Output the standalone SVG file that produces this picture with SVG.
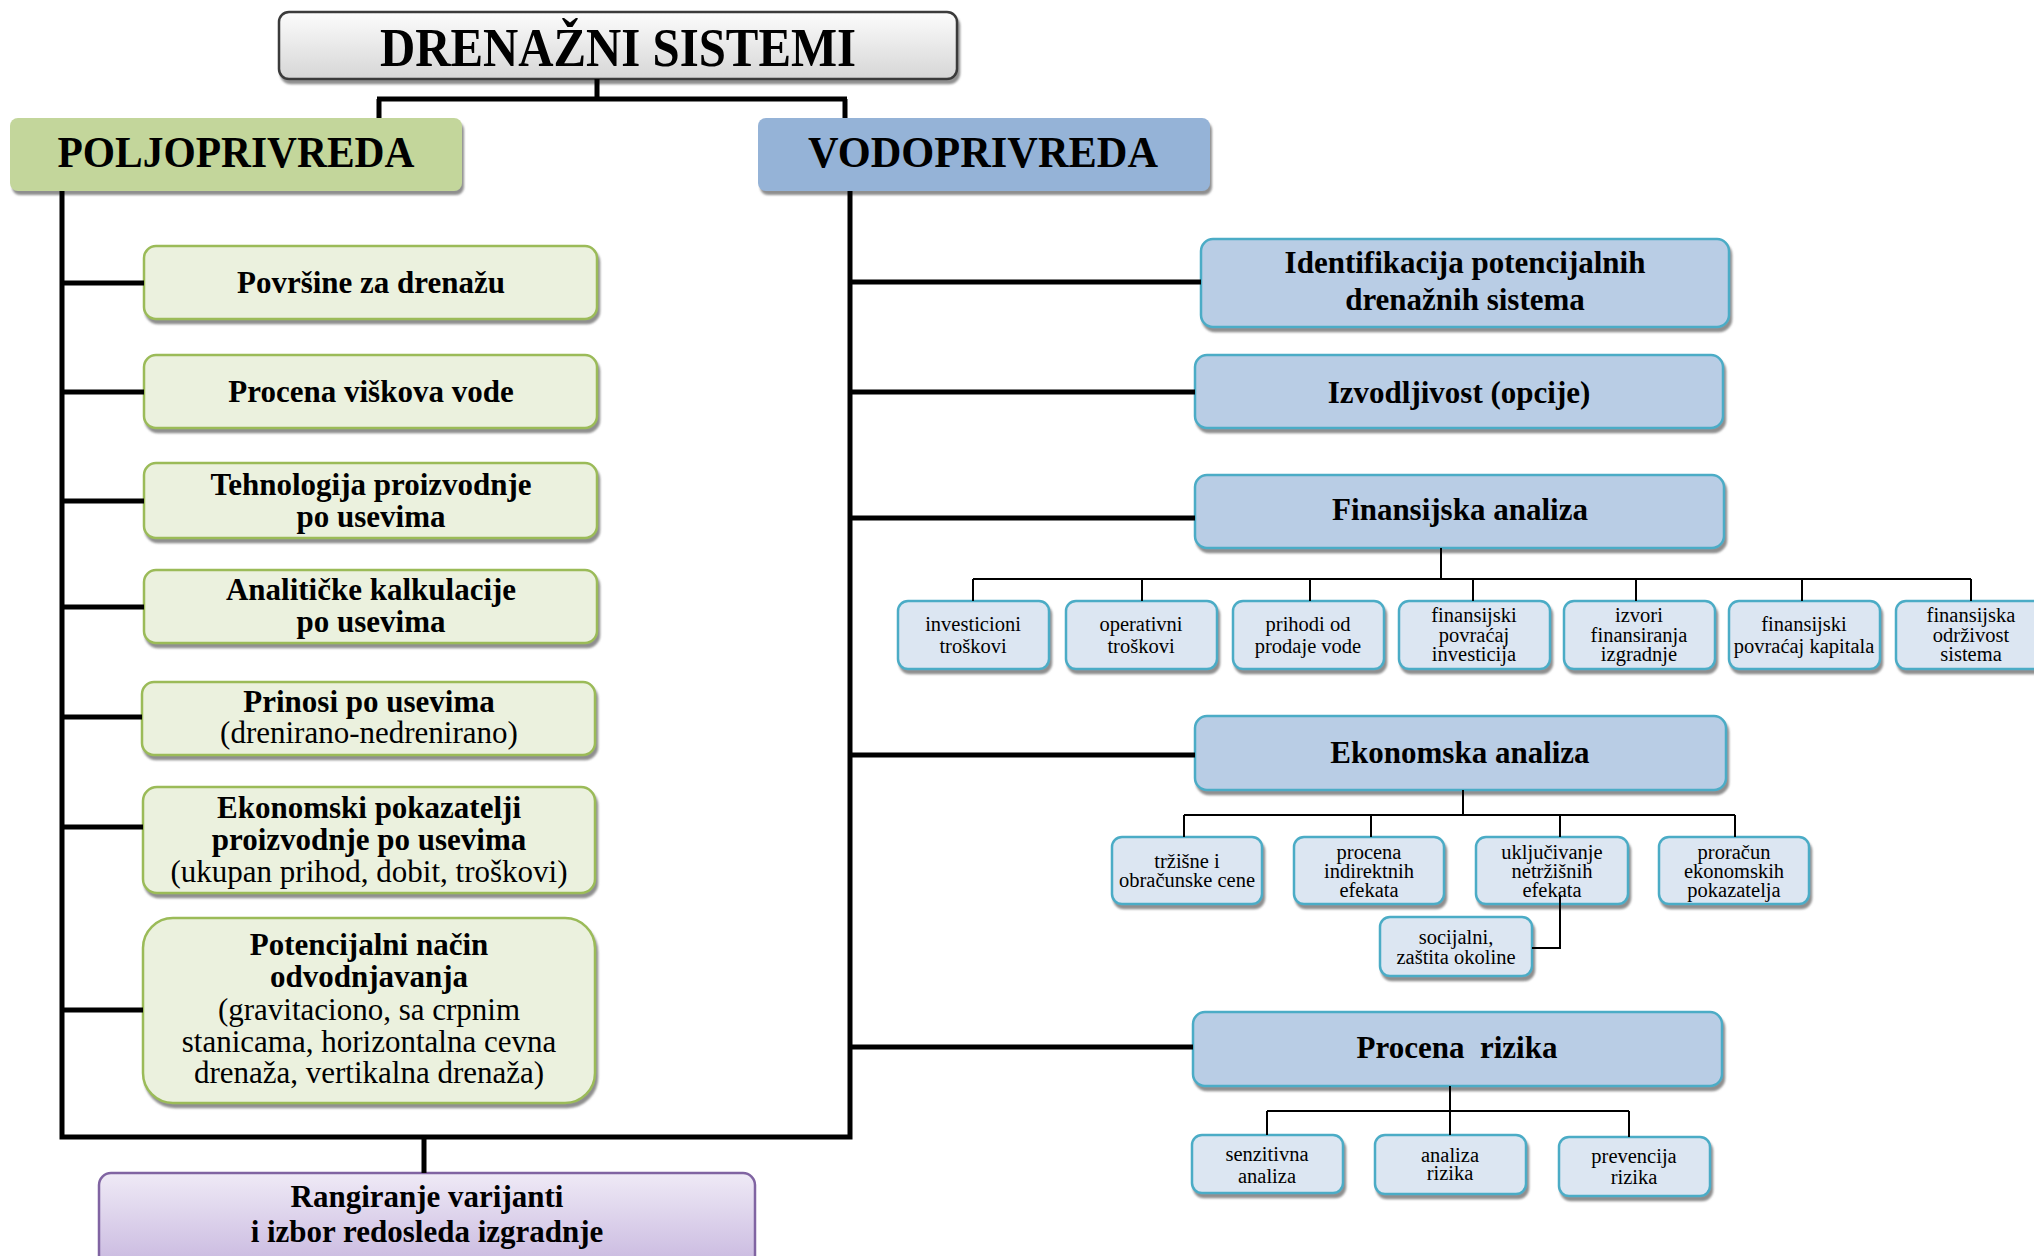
<svg xmlns="http://www.w3.org/2000/svg" width="2034" height="1256" viewBox="0 0 2034 1256">
<defs>
<filter id="sh" x="-5%" y="-10%" width="115%" height="130%">
<feDropShadow dx="2" dy="4" stdDeviation="1.2" flood-color="#7a7a7a" flood-opacity="0.85"/>
</filter>
<linearGradient id="gTitle" x1="0" y1="0" x2="0" y2="1">
<stop offset="0" stop-color="#fcfcfc"/><stop offset="1" stop-color="#d6d6d6"/>
</linearGradient>
<linearGradient id="gPurple" x1="0" y1="0" x2="0" y2="1">
<stop offset="0" stop-color="#efeaf6"/><stop offset="1" stop-color="#c6b5de"/>
</linearGradient>
<style>
text{font-family:"Liberation Serif","Times New Roman",serif;fill:#000;text-anchor:middle}
.b{font-weight:bold;font-size:31px}
.r{font-size:31px}
.s{font-size:20.5px}
.hd{font-weight:bold;font-size:44px}
.green{fill:#ebf1de;stroke:#9bbb59;stroke-width:2.5}
.blue{fill:#b9cde5;stroke:#4bacc6;stroke-width:2.5}
.sub{fill:#dce6f2;stroke:#4bacc6;stroke-width:2.5}
.thick{stroke:#000;stroke-width:5;fill:none}
.thin{stroke:#000;stroke-width:2;fill:none}
</style>
</defs>

<g id="title">
<rect x="279" y="12" width="678" height="67" rx="10" fill="url(#gTitle)" stroke="#3a3a3a" stroke-width="2.5" filter="url(#sh)"/>
<text x="618" y="66" font-weight="bold" font-size="54" textLength="476" lengthAdjust="spacingAndGlyphs">DRENAŽNI SISTEMI</text>
</g>

<g id="poljoprivreda">
<rect x="10" y="118" width="452" height="73" rx="8" fill="#c3d69b" filter="url(#sh)"/>
<text class="hd" x="236" y="167" textLength="357" lengthAdjust="spacingAndGlyphs">POLJOPRIVREDA</text>
</g>

<g id="vodoprivreda">
<rect x="758" y="118" width="452" height="73" rx="8" fill="#95b3d7" filter="url(#sh)"/>
<text class="hd" x="983" y="167" textLength="350" lengthAdjust="spacingAndGlyphs">VODOPRIVREDA</text>
</g>

<g id="povrsine">
<rect class="green" x="144" y="246" width="453" height="73" rx="12" filter="url(#sh)"/>
<text class="b" x="371" y="293">Površine za drenažu</text>
</g>
<g id="procena-viskova">
<rect class="green" x="144" y="355" width="453" height="73" rx="12" filter="url(#sh)"/>
<text class="b" x="371" y="402">Procena viškova vode</text>
</g>
<g id="tehnologija">
<rect class="green" x="144" y="463" width="453" height="75" rx="12" filter="url(#sh)"/>
<text class="b" x="371" y="495">Tehnologija proizvodnje</text>
<text class="b" x="371" y="527">po usevima</text>
</g>
<g id="analiticke">
<rect class="green" x="144" y="570" width="453" height="73" rx="12" filter="url(#sh)"/>
<text class="b" x="371" y="600">Analitičke kalkulacije</text>
<text class="b" x="371" y="632">po usevima</text>
</g>
<g id="prinosi">
<rect class="green" x="142" y="682" width="453" height="73" rx="12" filter="url(#sh)"/>
<text class="b" x="369" y="712">Prinosi po usevima</text>
<text class="r" x="369" y="743">(drenirano-nedrenirano)</text>
</g>
<g id="ekonomski-pokazatelji">
<rect class="green" x="143" y="787" width="452" height="106" rx="14" filter="url(#sh)"/>
<text class="b" x="369" y="818">Ekonomski pokazatelji</text>
<text class="b" x="369" y="850">proizvodnje po usevima</text>
<text class="r" x="369" y="882">(ukupan prihod, dobit, troškovi)</text>
</g>
<g id="potencijalni">
<rect class="green" x="143" y="918" width="452" height="185" rx="30" filter="url(#sh)"/>
<text class="b" x="369" y="955">Potencijalni način</text>
<text class="b" x="369" y="987">odvodnjavanja</text>
<text class="r" x="369" y="1020">(gravitaciono, sa crpnim</text>
<text class="r" x="369" y="1052">stanicama, horizontalna cevna</text>
<text class="r" x="369" y="1083">drenaža, vertikalna drenaža)</text>
</g>

<g id="rangiranje">
<rect x="99" y="1173" width="656" height="100" rx="12" fill="url(#gPurple)" stroke="#8064a2" stroke-width="2.5"/>
<text class="b" x="427" y="1207">Rangiranje varijanti</text>
<text class="b" x="427" y="1242">i izbor redosleda izgradnje</text>
</g>

<g id="identifikacija">
<rect class="blue" x="1201" y="239" width="528" height="88" rx="12" filter="url(#sh)"/>
<text class="b" x="1465" y="273">Identifikacija potencijalnih</text>
<text class="b" x="1465" y="310">drenažnih sistema</text>
</g>
<g id="izvodljivost">
<rect class="blue" x="1195" y="355" width="528" height="73" rx="12" filter="url(#sh)"/>
<text class="b" x="1459" y="403">Izvodljivost (opcije)</text>
</g>
<g id="finansijska">
<rect class="blue" x="1195" y="475" width="529" height="73" rx="12" filter="url(#sh)"/>
<text class="b" x="1460" y="520">Finansijska analiza</text>
</g>
<g id="ekonomska">
<rect class="blue" x="1195" y="716" width="531" height="74" rx="12" filter="url(#sh)"/>
<text class="b" x="1460" y="763">Ekonomska analiza</text>
</g>
<g id="procena-rizika">
<rect class="blue" x="1193" y="1012" width="529" height="74" rx="12" filter="url(#sh)"/>
<text class="b" x="1457" y="1058" xml:space="preserve">Procena  rizika</text>
</g>

<g id="f-investicioni">
<rect class="sub" x="898" y="601" width="151" height="68" rx="10" filter="url(#sh)"/>
<text class="s" x="973" y="631">investicioni</text>
<text class="s" x="973" y="653">troškovi</text>
</g>
<g id="f-operativni">
<rect class="sub" x="1066" y="601" width="151" height="68" rx="10" filter="url(#sh)"/>
<text class="s" x="1141" y="631">operativni</text>
<text class="s" x="1141" y="653">troškovi</text>
</g>
<g id="f-prihodi">
<rect class="sub" x="1233" y="601" width="151" height="68" rx="10" filter="url(#sh)"/>
<text class="s" x="1308" y="631">prihodi od</text>
<text class="s" x="1308" y="653">prodaje vode</text>
</g>
<g id="f-povracaj-inv">
<rect class="sub" x="1399" y="601" width="151" height="68" rx="10" filter="url(#sh)"/>
<text class="s" x="1474" y="622">finansijski</text>
<text class="s" x="1474" y="642">povraćaj</text>
<text class="s" x="1474" y="661">investicija</text>
</g>
<g id="f-izvori">
<rect class="sub" x="1564" y="601" width="151" height="68" rx="10" filter="url(#sh)"/>
<text class="s" x="1639" y="622">izvori</text>
<text class="s" x="1639" y="642">finansiranja</text>
<text class="s" x="1639" y="661">izgradnje</text>
</g>
<g id="f-povracaj-kap">
<rect class="sub" x="1729" y="601" width="151" height="68" rx="10" filter="url(#sh)"/>
<text class="s" x="1804" y="631">finansijski</text>
<text class="s" x="1804" y="653">povraćaj kapitala</text>
</g>
<g id="f-odrzivost">
<rect class="sub" x="1896" y="601" width="151" height="68" rx="10" filter="url(#sh)"/>
<text class="s" x="1971" y="622">finansijska</text>
<text class="s" x="1971" y="642">održivost</text>
<text class="s" x="1971" y="661">sistema</text>
</g>

<g id="e-trzisne">
<rect class="sub" x="1112" y="837" width="150" height="67" rx="10" filter="url(#sh)"/>
<text class="s" x="1187" y="868">tržišne i</text>
<text class="s" x="1187" y="887">obračunske cene</text>
</g>
<g id="e-indirektni">
<rect class="sub" x="1294" y="837" width="150" height="67" rx="10" filter="url(#sh)"/>
<text class="s" x="1369" y="859">procena</text>
<text class="s" x="1369" y="878">indirektnih</text>
<text class="s" x="1369" y="897">efekata</text>
</g>
<g id="e-netrzisni">
<rect class="sub" x="1476" y="837" width="152" height="67" rx="10" filter="url(#sh)"/>
<text class="s" x="1552" y="859">uključivanje</text>
<text class="s" x="1552" y="878">netržišnih</text>
<text class="s" x="1552" y="897">efekata</text>
</g>
<g id="e-proracun">
<rect class="sub" x="1659" y="837" width="150" height="67" rx="10" filter="url(#sh)"/>
<text class="s" x="1734" y="859">proračun</text>
<text class="s" x="1734" y="878">ekonomskih</text>
<text class="s" x="1734" y="897">pokazatelja</text>
</g>
<g id="e-socijalni">
<rect class="sub" x="1380" y="917" width="152" height="59" rx="10" filter="url(#sh)"/>
<text class="s" x="1456" y="944">socijalni,</text>
<text class="s" x="1456" y="964">zaštita okoline</text>
</g>

<g id="r-senzitivna">
<rect class="sub" x="1192" y="1135" width="151" height="58" rx="10" filter="url(#sh)"/>
<text class="s" x="1267" y="1161">senzitivna</text>
<text class="s" x="1267" y="1183">analiza</text>
</g>
<g id="r-analiza">
<rect class="sub" x="1375" y="1135" width="151" height="59" rx="10" filter="url(#sh)"/>
<text class="s" x="1450" y="1162">analiza</text>
<text class="s" x="1450" y="1180">rizika</text>
</g>
<g id="r-prevencija">
<rect class="sub" x="1559" y="1137" width="151" height="59" rx="10" filter="url(#sh)"/>
<text class="s" x="1634" y="1163">prevencija</text>
<text class="s" x="1634" y="1184">rizika</text>
</g>

<g id="connectors">
<path class="thick" d="M597 79 V99 M377 99 H847 M379 99 V118 M845 99 V118"/>
<path class="thick" d="M62 191 V1137 H850 V191 M424 1137 V1173"/>
<path class="thick" d="M62 283 H144 M62 392 H144 M62 501 H144 M62 607 H144 M62 717 H142 M62 827 H143 M62 1010 H143"/>
<path class="thick" d="M850 282 H1201 M850 392 H1195 M850 518 H1195 M850 755 H1195 M850 1047 H1193"/>
<path class="thin" d="M1441 548 V579 M973 579 H1971 M973 579 V601 M1142 579 V601 M1310 579 V601 M1473 579 V601 M1636 579 V601 M1802 579 V601 M1971 579 V601"/>
<path class="thin" d="M1463 790 V815 M1184 815 H1735 M1184 815 V837 M1371 815 V837 M1560 815 V837 M1735 815 V837 M1560 895 V948 H1532"/>
<path class="thin" d="M1450 1086 V1135 M1267 1111 H1629 M1267 1111 V1135 M1629 1111 V1137"/>
</g>
</svg>
